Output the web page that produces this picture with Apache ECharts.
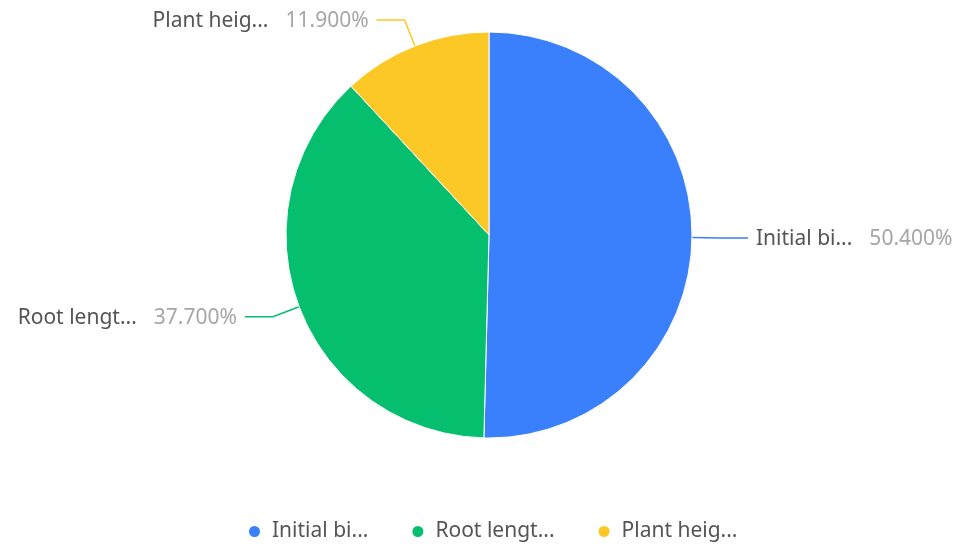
<!DOCTYPE html>
<html>
<head>
<meta charset="utf-8">
<script src="https://cdn.jsdelivr.net/npm/echarts@6/dist/echarts.min.js"></script>
<style>html,body{margin:0;padding:0;background:#fff;}#c{width:957px;height:547px;}</style>
</head>
<body>
<div id="c"></div>
<script>
const categories = ['Initial bi...', 'Root lengt...', 'Plant heig...'];
const values = [50.4, 37.7, 11.9];
const colors = ['#3a7ffc', '#05be6e', '#fcc825'];
const FONT = 'Noto Sans';

const chart = echarts.init(document.getElementById('c'));
chart.setOption({
  animation: false,
  color: colors,
  legend: {
    bottom: 0,
    left: 242,
    icon: 'circle',
    itemWidth: 13,
    itemHeight: 13,
    itemGap: 42,
    textStyle: { fontSize: 21, color: '#555', fontFamily: FONT, padding: [0, 0, 0, 6] },
    data: categories
  },
  series: [{
    type: 'pie',
    center: [489, 235],
    radius: [0, 203],
    startAngle: 90,
    clockwise: true,
    itemStyle: { borderColor: '#fff', borderWidth: 1 },
    label: {
      formatter: p => '{n|' + p.name + '}{v|' + p.value.toFixed(3) + '%}',
      rich: {
        n: { fontSize: 21, color: '#555', fontFamily: FONT, padding: [3, 0, 0, 0] },
        v: { fontSize: 21, color: '#a6a6a6', fontFamily: FONT, padding: [3, 0, 0, 17] }
      },
      distanceToLabelLine: 8
    },
    labelLine: { length: 28, length2: 28, lineStyle: { width: 1.5 } },
    data: categories.map((c, i) => ({ name: c, value: values[i] }))
  }]
});
</script>
</body>
</html>
